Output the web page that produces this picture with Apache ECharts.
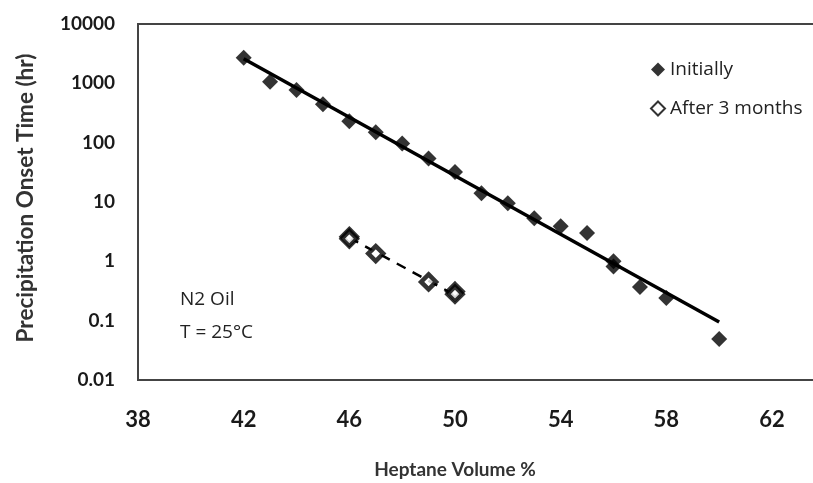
<!DOCTYPE html>
<html>
<head>
<meta charset="utf-8">
<script src="https://cdn.jsdelivr.net/npm/echarts@6/dist/echarts.min.js"></script>
<style>html,body{margin:0;padding:0;background:#fff;overflow:hidden}#c{width:813px;height:483px}</style>
</head>
<body>
<div id="c"></div>
<script>
// Heptane volume % (x) and onset time in hours (y)
var initX = [42, 43, 44, 45, 46, 47, 48, 49, 50, 51, 52, 53, 54, 55, 56, 56, 57, 58, 60];
var initY = [2700, 1060, 770, 445, 230, 150, 97, 54, 32, 14, 9.5, 5.3, 3.9, 3.0, 1.0, 0.82, 0.37, 0.24, 0.049];
var laterX = [46, 46, 47, 49, 50, 50];
var laterY = [2.6, 2.4, 1.35, 0.45, 0.31, 0.28];
var trendInitX = [42, 60];
var trendInitY = [2600, 0.095];
var trendLaterX = [46, 50];
var trendLaterY = [2.5, 0.27];
var xTicks = [38, 42, 46, 50, 54, 58, 62];
var yTicks = [0.01, 0.1, 1, 10, 100, 1000, 10000];
var seriesNames = ['Initially', 'After 3 months'];
var notes = ['N2 Oil', 'T = 25°C'];

function pairs(xs, ys) { return xs.map(function (x, i) { return [x, ys[i]]; }); }

var font = 'Lato, "Open Sans", sans-serif';
var chart = echarts.init(document.getElementById('c'));
chart.setOption({
  animation: false,
  backgroundColor: '#fff',
  grid: {
    left: 138, width: 690, top: 24, height: 356, outerBoundsMode: 'none', containLabel: false,
    show: true, borderColor: '#444', borderWidth: 2, backgroundColor: 'transparent'
  },
  xAxis: {
    type: 'value', min: xTicks[0], max: 64.12, interval: 4,
    name: 'Heptane Volume %', nameLocation: 'middle', nameGap: 80,
    nameTextStyle: { fontFamily: font, fontSize: 19, fontWeight: 'bold', color: '#333', padding: [0, 56, 0, 0] },
    axisLine: { show: true, lineStyle: { color: '#444', width: 2 } },
    axisTick: { show: false }, splitLine: { show: false },
    axisLabel: {
      margin: 29, fontFamily: font, fontSize: 22, fontWeight: 'bold', color: '#1a1a1a',
      formatter: function (v) { return xTicks.indexOf(v) >= 0 ? String(v) : ''; }
    }
  },
  yAxis: {
    type: 'log', logBase: 10, min: yTicks[0], max: yTicks[yTicks.length - 1],
    name: 'Precipitation Onset Time (hr)', nameLocation: 'middle', nameGap: 101,
    nameTextStyle: { fontFamily: font, fontSize: 22.5, fontWeight: 'bold', color: '#333', padding: [0, 0, 0, 8] },
    axisLine: { show: true, lineStyle: { color: '#444', width: 2 } },
    axisTick: { show: false }, splitLine: { show: false },
    axisLabel: {
      margin: 23, fontFamily: font, fontSize: 19, fontWeight: 'bold', color: '#1a1a1a',
      formatter: function (v) { return String(v); }
    }
  },
  legend: {
    data: [
      { name: seriesNames[0], icon: 'diamond' },
      { name: seriesNames[1], icon: 'diamond' }
    ],
    orient: 'vertical', left: 645, top: 55, itemWidth: 14, itemHeight: 14, itemGap: 20,
    textStyle: { fontFamily: '"Open Sans", sans-serif', fontSize: 19, color: '#222' }
  },
  series: [
    {
      name: 'trendInit', type: 'line', data: pairs(trendInitX, trendInitY), showSymbol: false, symbol: 'none',
      lineStyle: { color: '#000', width: 3.5 }, z: 1, silent: true
    },
    {
      name: 'trendLater', type: 'line', data: pairs(trendLaterX, trendLaterY), showSymbol: false, symbol: 'none',
      lineStyle: { color: '#000', width: 2.5, type: [10, 8] }, z: 1, silent: true
    },
    {
      name: seriesNames[0], type: 'scatter', data: pairs(initX, initY), symbol: 'diamond', symbolSize: 16,
      itemStyle: { color: '#000' }, z: 3
    },
    {
      name: seriesNames[1], type: 'scatter', data: pairs(laterX, laterY), symbol: 'diamond', symbolSize: 15,
      itemStyle: { color: '#fff', borderColor: '#000', borderWidth: 4.5 }, z: 3
    }
  ],
  graphic: [
    { type: 'text', left: 180, top: 290, style: { text: notes[0], font: '19px "Open Sans", sans-serif', fill: '#222' } },
    { type: 'text', left: 180, top: 323, style: { text: notes[1], font: '19px "Open Sans", sans-serif', fill: '#222' } }
  ]
});
</script>
</body>
</html>
